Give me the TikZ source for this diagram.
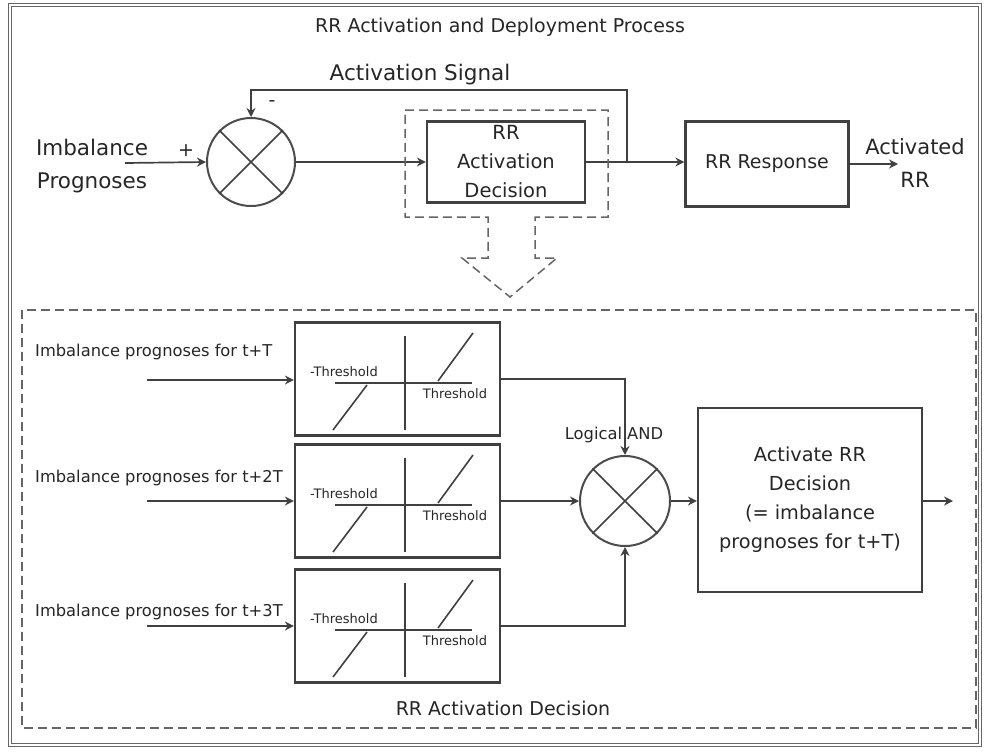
\documentclass[tikz,border=0pt]{standalone}
\usepackage{fontspec}
\setmainfont{DejaVu Sans}
\usetikzlibrary{arrows.meta}
\newcommand{\fs}[2]{\fontsize{#1}{#2}\selectfont}
\begin{document}
\begin{tikzpicture}[x=1pt,y=-1pt,
  txt/.style={font=\fs{19}{29}, text=black!85, inner sep=0pt},
  small/.style={font=\fs{13}{15}, text=black!85, inner sep=0pt},
  boxn/.style={draw=black!75, line width=2.2pt, inner sep=0pt, align=center},
  conn/.style={draw=black!75, line width=1.7pt},
  arr/.style={conn, -{Stealth[length=9pt,width=9pt]}},
  dsh/.style={draw=black!60, line width=1.5pt, dash pattern=on 9pt off 5pt},
  junc/.style={circle, draw=black!70, line width=2pt, inner sep=0pt}
]
\useasboundingbox (0,0) rectangle (984,753);
% outer frame
\draw[draw=black!60, line width=0.9pt, double, double distance=1.6pt] (10,5) rectangle (980,745);

% top part
\node[txt] (title) at (500,27) {RR Activation and Deployment Process};
\node[txt, font=\fs{21.5}{26}] (sig) at (420,75) {Activation Signal};
\node[junc, minimum size=88pt] (sum) at (251,162) {};
\draw[conn] (sum.north west) -- (sum.south east);
\draw[conn] (sum.north east) -- (sum.south west);
\node[txt, align=center, font=\fs{21.5}{33}] (imb) at (92,166) {Imbalance\\Prognoses};
\coordinate (imbs) at (125,163);
\node[txt] (plus) at (186,151) {+};
\node[txt] (minus) at (272,104) {-};
\node[boxn, txt, minimum width=158pt, minimum height=81pt, font=\fs{19.5}{29}] (rad) at (506,162) {RR\\Activation\\Decision};
\node[boxn, txt, minimum width=163pt, minimum height=85pt] (rrr) at (767,164) {RR Response};
\node[txt, align=center, font=\fs{21}{33}] (act) at (915,163) {Activated\\RR};
\coordinate (acte) at (898,164);
\coordinate (fbj) at (627,163);
\coordinate (fbr) at (627,90);
\coordinate (fbl) at (251,90);

\draw[arr] (imbs) -- (sum.west);
\draw[arr] (sum.east) -- (sum.east -| rad.west);
\draw[arr] (rad.east) -- (rad.east -| rrr.west);
\draw[arr] (rrr.east) -- (acte);
\draw[arr] (fbj) -- (fbr) -- (fbl) -- (sum.north);

% dashed outline with down arrow
\draw[dsh] (405,110) -- (608,110) -- (608,217) -- (535,217) -- (535,258) -- (557,258)
  -- (510,297) -- (462,258) -- (488,258) -- (488,217) -- (405,217) -- cycle;

% lower dashed box
\draw[dsh] (22,310) rectangle (976,728);
\node[txt] (lbl) at (503,708) {RR Activation Decision};

% threshold boxes
\foreach \i/\cy/\ay in {1/379/383, 2/501/505, 3/626/630}{
  \node[boxn, minimum width=205pt, minimum height=113pt] (tb\i) at (397.5,\cy) {};
  \begin{scope}[shift={(405,\ay)}]
    \draw[conn, line width=1.4pt] (0,-47) -- (0,47);
    \draw[conn, line width=1.4pt] (-70,0) -- (67,0);
    \draw[conn, line width=1.6pt] (-38,2) -- (-72,47);
    \draw[conn, line width=1.6pt] (33,-2) -- (68,-50);
    \node[small] (mt\i) at (-61,-11) {-Threshold};
    \node[small] (pt\i) at (50,11) {Threshold};
  \end{scope}
}
\node[txt, anchor=west, font=\fs{16.3}{20}] (in1) at (35,352) {Imbalance prognoses for t+T};
\node[txt, anchor=west, font=\fs{16.3}{20}] (in2) at (35,478) {Imbalance prognoses for t+2T};
\node[txt, anchor=west, font=\fs{16.3}{20}] (in3) at (35,612) {Imbalance prognoses for t+3T};
\coordinate (s1) at (147,380);
\coordinate (s2) at (147,501);
\coordinate (s3) at (147,626);
\draw[arr] (s1) -- (s1 -| tb1.west);
\draw[arr] (s2) -- (s2 -| tb2.west);
\draw[arr] (s3) -- (s3 -| tb3.west);

\node[junc, minimum size=90pt] (and) at (625,501) {};
\draw[conn] (and.north west) -- (and.south east);
\draw[conn] (and.north east) -- (and.south west);
\node[txt, font=\fs{16.3}{20}] (andl) at (614,435) {Logical AND};
\draw[arr] (tb1.east) -| (and.north);
\draw[arr] (tb2.east) -- (and.west);
\draw[arr] (tb3.east) -| (and.south);

\node[boxn, txt, minimum width=224pt, minimum height=184pt, font=\fs{19.3}{29}] (dec) at (810,500) {Activate RR\\Decision\\(= imbalance\\prognoses for t+T)};
\coordinate (dece) at (953,501);
\draw[arr] (and.east) -- (and.east -| dec.west);
\draw[arr] (and.east -| dec.east) -- (dece);
\end{tikzpicture}
\end{document}
